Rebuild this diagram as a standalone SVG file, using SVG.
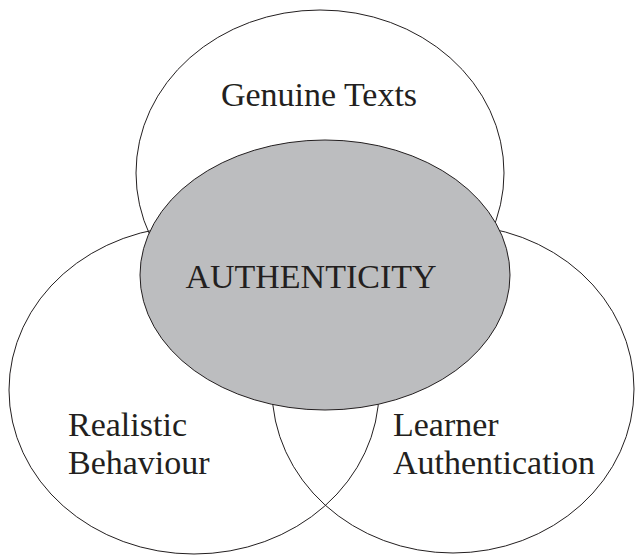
<svg xmlns="http://www.w3.org/2000/svg" width="635" height="555" viewBox="0 0 635 555">
<style>
.c{fill:none;stroke:#231f20;stroke-width:1}
.core{fill:#bcbdbf;stroke:#231f20;stroke-width:1}
.t{font-family:"Liberation Serif","Times New Roman",serif;font-size:34px;fill:#231f20}
</style>
<rect width="635" height="555" fill="#ffffff"/>
<g id="genuine-texts">
<ellipse class="c" cx="320" cy="173" rx="184" ry="163"/>
<text class="t" x="319" y="106" text-anchor="middle">Genuine Texts</text>
</g>
<g id="realistic-behaviour">
<ellipse class="c" cx="194" cy="390" rx="185" ry="164"/>
<text class="t" x="68" y="436">Realistic</text>
<text class="t" x="68" y="474">Behaviour</text>
</g>
<g id="learner-authentication">
<ellipse class="c" cx="453" cy="389" rx="181" ry="164"/>
<text class="t" x="393" y="436">Learner</text>
<text class="t" x="393" y="474">Authentication</text>
</g>
<g id="authenticity">
<ellipse class="core" cx="325" cy="275" rx="185" ry="135"/>
<text class="t" x="311" y="288" text-anchor="middle">AUTHENTICITY</text>
</g>
<g id="connectors"></g>
</svg>
